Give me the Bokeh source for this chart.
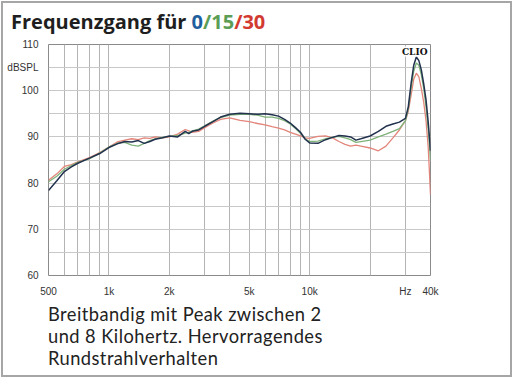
from bokeh.plotting import figure
from bokeh.models import FixedTicker, Label, Range1d, Div
from bokeh.layouts import column
from bokeh.embed import file_html
from bokeh.resources import INLINE

# ---- data ----
freq = [500, 550, 600, 650, 700, 800, 900, 1000, 1100, 1200, 1300, 1400, 1500,
        1600, 1700, 1850, 2000, 2200, 2400, 2500, 2600, 2800, 3000, 3300, 3600,
        4000, 4500, 5000, 5500, 6000, 6500, 7000, 7500, 8000, 8500, 9000, 9500,
        10000, 11000, 12000, 13000, 14000, 15000, 16000, 17000, 18000, 20000,
        22000, 24000, 26000, 28000, 30000, 31000, 32000, 33000, 34000, 35000,
        36000, 37000, 38000, 39000, 40000]

spl_0 = [78.4, 80.5, 82.5, 83.5, 84.3, 85.4, 86.4, 87.7, 88.5, 89.0, 88.9, 89.2, 88.6,
         89.0, 89.5, 89.8, 90.2, 90.0, 91.2, 90.7, 91.2, 91.5, 92.3, 93.3, 94.3,
         94.9, 95.1, 95.0, 94.9, 95.0, 94.8, 94.5, 93.8, 93.0, 92.0, 91.0, 89.5,
         88.7, 88.6, 89.4, 89.9, 90.3, 90.2, 90.0, 89.3, 89.6, 90.2,
         91.2, 92.3, 92.8, 93.2, 94.0, 96.5, 101.5, 105.5, 107.3, 106.5,
         104.5, 101.5, 98.0, 93.0, 87.0]

spl_15 = [80.3, 81.5, 83.0, 83.8, 84.5, 85.3, 86.5, 87.8, 88.6, 88.8, 88.2, 88.0, 88.6,
          89.2, 89.6, 89.9, 90.1, 90.3, 90.8, 91.0, 91.3, 91.7, 92.4, 93.4, 94.2,
          94.7, 94.9, 94.9, 94.7, 94.3, 94.3, 94.0, 93.5, 92.8, 91.8, 90.8, 89.6,
          89.0, 89.1, 89.6, 89.9, 90.1, 89.8, 89.4, 88.8, 89.0, 89.3,
          90.0, 90.6, 91.2, 91.8, 93.5, 96.0, 100.5, 104.2, 106.0, 105.5,
          103.5, 100.5, 96.5, 91.5, 85.0]

spl_30 = [80.6, 82.0, 83.6, 84.0, 84.6, 85.5, 86.6, 87.8, 88.9, 89.3, 89.6, 89.4, 89.8,
          89.7, 90.0, 89.8, 90.0, 90.6, 91.6, 91.3, 91.0, 91.2, 92.0, 93.0, 93.8,
          94.1, 93.6, 93.3, 92.9, 92.6, 92.2, 91.9, 91.5, 91.0, 90.6, 90.2, 89.8,
          89.7, 90.1, 90.2, 89.8, 89.0, 88.4, 88.0, 88.2, 88.0, 87.6,
          87.0, 88.0, 89.8, 91.5, 93.5, 95.5, 99.0, 102.5, 103.8, 103.0,
          100.5, 97.5, 93.5, 87.5, 77.5]

x_ticks = [500, 1000, 2000, 5000, 10000, 30000, 40000]
x_tick_labels = ["500", "1k", "2k", "5k", "10k", "Hz", "40k"]
x_grid = [500, 600, 700, 800, 900, 1000, 2000, 3000, 4000, 5000, 6000, 7000,
          8000, 9000, 10000, 20000, 30000, 40000]
y_ticks = [60, 70, 80, 90, 100, 105, 110]
y_tick_labels = ["60", "70", "80", "90", "100", "dBSPL", "110"]
y_grid = [60, 65, 70, 75, 80, 85, 90, 95, 100, 105, 110]

title_parts = ["Frequenzgang für ", "0", "/15", "/30"]
title_colors = ["#1e1e1e", "#1f5f9e", "#5c9e55", "#d23a30"]
caption_lines = ["Breitbandig mit Peak zwischen 2",
                 "und 8 Kilohertz. Hervorragendes",
                 "Rundstrahlverhalten"]

W = 507

# ---- title ----
title_html = "".join('<span style="color:%s">%s</span>' % (c, t)
                     for t, c in zip(title_parts, title_colors))
title_div = Div(text='<div style="font-family:\'Open Sans\';font-weight:bold;font-size:20px;'
                     'line-height:24px;padding:7px 0 0 8px;white-space:nowrap;">%s</div>' % title_html,
                width=W, height=33, margin=0)

# ---- chart ----
p = figure(width=W, height=263, x_axis_type="log", output_backend="svg",
           toolbar_location=None, x_range=Range1d(500, 40000), y_range=Range1d(60, 110),
           min_border_left=45, min_border_right=80, min_border_top=8, min_border_bottom=24,
           background_fill_color="white", border_fill_color="white", margin=0)
p.outline_line_color = "#8a8a8a"
p.outline_line_width = 1

for ax in (p.xaxis[0], p.yaxis[0]):
    ax.axis_line_color = None
    ax.major_tick_line_color = None
    ax.minor_tick_line_color = None
    ax.major_label_text_font = "Liberation Sans"
    ax.major_label_text_font_size = "10px"
    ax.major_label_text_color = "#333333"

p.xaxis.ticker = FixedTicker(ticks=x_ticks)
p.xaxis.major_label_overrides = {t: l for t, l in zip(x_ticks, x_tick_labels)}
p.xaxis.major_label_standoff = 4
p.yaxis.ticker = FixedTicker(ticks=y_ticks)
p.yaxis.major_label_overrides = {t: l for t, l in zip(y_ticks, y_tick_labels)}
p.yaxis.major_label_standoff = 4

p.xgrid.ticker = FixedTicker(ticks=x_grid)
p.xgrid.grid_line_color = "#b4b4b4"
p.ygrid.ticker = FixedTicker(ticks=y_grid)
p.ygrid.grid_line_color = "#c8c8c8"

p.line(freq, spl_30, line_color="#e3857a", line_width=1.3)
p.line(freq, spl_15, line_color="#7fb27a", line_width=1.3)
p.line(freq, spl_0, line_color="#22314d", line_width=1.5)

p.add_layout(Label(x=379, y=229, x_units="screen", y_units="screen", text="CLIO",
                   text_font="DejaVu Serif", text_font_style="bold", text_font_size="9px",
                   text_color="#111111", text_align="right", text_baseline="top",
                   background_fill_color="white"))

# ---- caption ----
cap_html = "".join('<div style="height:22px;line-height:22px;">%s</div>' % ln for ln in caption_lines)
caption_div = Div(text='<div style="font-family:Lato;font-size:18.3px;letter-spacing:0.45px;'
                       'color:#222222;padding:4px 0 0 45px;white-space:nowrap;">%s</div>' % cap_html,
                  width=W, height=76, margin=0)

layout = column(title_div, p, caption_div, spacing=0,
                styles={"border": "2px solid #a6a6a6", "margin": "1px 0 0 1px"})

open("out.html", "w").write(file_html(layout, INLINE))
